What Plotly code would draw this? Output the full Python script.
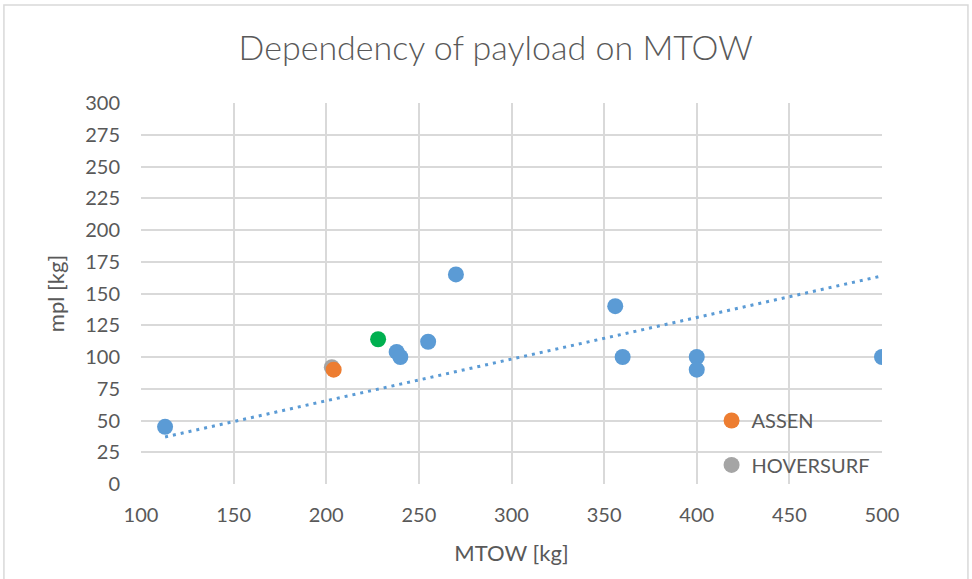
import numpy as np
import plotly.graph_objects as go

# MTOW [kg] vs payload mpl [kg]
other_mtow = [113, 238, 240, 255, 270, 356, 360, 400, 400, 500]
other_mpl = [45, 104, 100, 112, 165, 140, 100, 100, 90, 100]
hoversurf_mtow = [203]
hoversurf_mpl = [92]
assen_mtow = [204]
assen_mpl = [90]
green_mtow = [228]
green_mpl = [114]

x_ticks = [100, 150, 200, 250, 300, 350, 400, 450, 500]
y_ticks = list(range(0, 301, 25))

# linear trend through origin over all points
all_x = np.array(other_mtow + hoversurf_mtow + assen_mtow + green_mtow, dtype=float)
all_y = np.array(other_mpl + hoversurf_mpl + assen_mpl + green_mpl, dtype=float)
slope = (all_x * all_y).sum() / (all_x ** 2).sum()
trend_x = np.array([all_x.min(), all_x.max()])
trend_y = slope * trend_x

grey_txt = "#595959"
grid = "#d9d9d9"
font_name = "Lato"

fig = go.Figure()

fig.add_trace(go.Scatter(
    x=trend_x, y=trend_y, mode="lines",
    line=dict(color="#5b9bd5", width=3, dash="3px,5px"),
    showlegend=False, hoverinfo="skip"
))

fig.add_trace(go.Scatter(
    x=other_mtow, y=other_mpl, mode="markers",
    marker=dict(color="#5b9bd5", size=16),
    showlegend=False
))

fig.add_trace(go.Scatter(
    x=hoversurf_mtow, y=hoversurf_mpl, mode="markers", name="HOVERSURF",
    marker=dict(color="#a5a5a5", size=16), legend="legend2"
))

fig.add_trace(go.Scatter(
    x=assen_mtow, y=assen_mpl, mode="markers", name="ASSEN",
    marker=dict(color="#ed7d31", size=16), legend="legend"
))

fig.add_trace(go.Scatter(
    x=green_mtow, y=green_mpl, mode="markers",
    marker=dict(color="#00b050", size=16),
    showlegend=False
))

fig.update_xaxes(
    range=[100, 500], tickvals=x_ticks, showgrid=True, gridcolor=grid, gridwidth=1.5,
    zeroline=False, showline=False, ticks="", ticklabelstandoff=17,
    tickfont=dict(size=20, color=grey_txt, family=font_name),
    title=dict(text="MTOW [kg]", font=dict(size=22, color=grey_txt, family=font_name), standoff=20)
)
fig.update_yaxes(
    range=[0, 300], tickvals=y_ticks, showgrid=True, gridcolor=grid, gridwidth=1.5,
    zeroline=False, showline=False, ticks="", ticklabelstandoff=20,
    tickfont=dict(size=20, color=grey_txt, family=font_name),
    title=dict(text="mpl [kg]", font=dict(size=22, color=grey_txt, family=font_name), standoff=14)
)

# chart border
fig.add_shape(type="rect", xref="paper", yref="paper",
              x0=-0.185, x1=1.116, y0=-0.3, y1=1.257,
              line=dict(color="#d9d9d9", width=1.5), layer="below")

legend_common = dict(
    xanchor="left", yanchor="middle", bgcolor="rgba(0,0,0,0)",
    font=dict(size=20, color=grey_txt, family=font_name),
)

fig.update_layout(
    width=972, height=579,
    margin=dict(l=141, r=90, t=103, b=95),
    paper_bgcolor="white", plot_bgcolor="white",
    title=dict(text="Dependency of payload on MTOW", x=0.51, xref="container",
               xanchor="center", y=0.917, yref="container", yanchor="middle",
               font=dict(size=34, color=grey_txt, family=font_name, weight=300)),
    legend=dict(x=0.77, y=(50 / 300), **legend_common),
    legend2=dict(x=0.77, y=(15 / 300), **legend_common),
)

fig.write_html("out.html", config={"displayModeBar": False},
               post_script="document.body.style.margin='0';")
